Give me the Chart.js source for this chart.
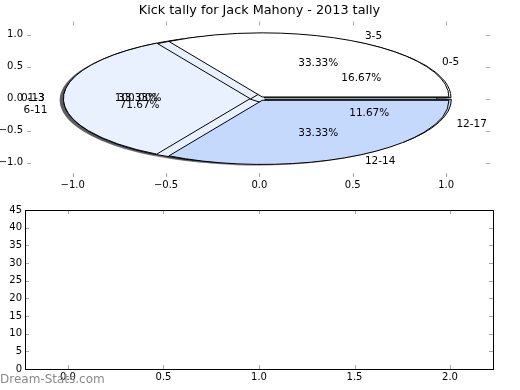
<!DOCTYPE html>
<html>
<head>
<meta charset="utf-8">
<script src="https://cdn.jsdelivr.net/npm/chart.js@4.4.0/dist/chart.umd.min.js"></script>
<style>
  body { margin: 0; background: #fff; }
  #wrap { position: relative; width: 520px; height: 390px; }
  #pieBox { position: absolute; left: 0; top: 0; width: 520px; height: 195px; }
  #tallyBox { position: absolute; left: 0; top: 195px; width: 520px; height: 195px; }
  #mark { position: absolute; left: 0; top: 372px; font: 12px 'DejaVu Sans'; color: #8a8a8a; }
</style>
</head>
<body>
<div id="wrap">
  <div id="pieBox"><canvas id="pieChart"></canvas></div>
  <div id="tallyBox"><canvas id="tallyChart"></canvas></div>
  <div id="mark">Dream-Stats.com</div>
</div>
<script>
const chartTitle = 'Kick tally for Jack Mahony - 2013 tally';

// every slice is its own little pie, all piled on the same axes
const sliceLabels = ['1-3', '6-11', '0-13', '0-5', '3-5', '12-17', '12-14'];
const slicePercents = [100, 71.67, 33.33, 16.67, 33.33, 11.67, 33.33];

const pieXTicks = [-1, -0.5, 0, 0.5, 1];
const pieYTicks = [-1, -0.5, 0, 0.5, 1];
const tallyXTicks = [0, 0.5, 1, 1.5, 2];
const tallyYTicks = [0, 5, 10, 15, 20, 25, 30, 35, 40, 45];

// how each little pie was laid out
const sliceStart = [0, 60, 120, 0, 0, 0, 0];
const sliceDir = [1, 1, 1, 1, 1, -1, -1];
const sliceExplode = [0.05, 0.05, 0.05, 0.03, 0.03, 0.03, 0.03];
const sliceColors = ['#e9f1fe', '#e9f1fe', '#e9f1fe', '#ffffff', '#ffffff', '#c5d9fd', '#c5d9fd'];

const FONT = 'DejaVu Sans';
const fmt1 = v => (v < 0 ? '\u2212' : '') + Math.abs(v).toFixed(1);

function sliceGeom(i) {
  const span = slicePercents[i] / 100 * 360;
  const a1 = sliceStart[i];
  const a2 = a1 + sliceDir[i] * span;
  const mid = (a1 + a2) / 2 * Math.PI / 180;
  return {
    a1: Math.min(a1, a2), a2: Math.max(a1, a2), mid,
    cx: sliceExplode[i] * Math.cos(mid), cy: sliceExplode[i] * Math.sin(mid), full: span >= 360
  };
}

function wedgePath(ctx, xs, ys, g, dx, dy) {
  const px = xs.getPixelForValue(g.cx + dx), py = ys.getPixelForValue(g.cy + dy);
  const rx = xs.getPixelForValue(g.cx + dx + 1) - px;
  const ry = py - ys.getPixelForValue(g.cy + dy + 1);
  ctx.beginPath();
  if (g.full) {
    ctx.ellipse(px, py, rx, ry, 0, 0, Math.PI * 2);
  } else {
    ctx.moveTo(px, py);
    ctx.ellipse(px, py, rx, ry, 0, -g.a1 * Math.PI / 180, -g.a2 * Math.PI / 180, true);
  }
  ctx.closePath();
}

function shade(hex) {
  const n = parseInt(hex.slice(1), 16);
  const r = Math.round(((n >> 16) & 255) * 0.3), g = Math.round(((n >> 8) & 255) * 0.3), b = Math.round((n & 255) * 0.3);
  return 'rgba(' + r + ',' + g + ',' + b + ',0.5)';
}

const ellipsePie = {
  id: 'ellipsePie',
  beforeDatasetsDraw(chart) {
    const { ctx, scales: { x, y } } = chart;
    ctx.save();
    // shadows go under everything
    sliceLabels.forEach((l, i) => {
      const g = sliceGeom(i);
      wedgePath(ctx, x, y, g, -0.02, -0.02);
      ctx.fillStyle = shade(sliceColors[i]);
      ctx.fill();
    });
    sliceLabels.forEach((l, i) => {
      const g = sliceGeom(i);
      wedgePath(ctx, x, y, g, 0, 0);
      ctx.fillStyle = sliceColors[i];
      ctx.fill();
      ctx.strokeStyle = '#000';
      ctx.lineWidth = 1;
      ctx.stroke();
    });
    ctx.restore();
  },
  afterDatasetsDraw(chart) {
    const { ctx, scales: { x, y }, chartArea: a } = chart;
    ctx.save();
    ctx.font = '10.5px ' + FONT;
    ctx.fillStyle = '#000';
    ctx.textBaseline = 'middle';
    sliceLabels.forEach((l, i) => {
      const g = sliceGeom(i);
      const lx = 1.1 * Math.cos(g.mid), ly = 1.1 * Math.sin(g.mid);
      ctx.textAlign = lx > 0 ? 'left' : 'right';
      ctx.fillText(l, x.getPixelForValue(g.cx + lx), y.getPixelForValue(g.cy + ly));
      ctx.textAlign = 'center';
      ctx.fillText(slicePercents[i].toFixed(2) + '%',
        x.getPixelForValue(g.cx + 0.6 * Math.cos(g.mid)), y.getPixelForValue(g.cy + 0.6 * Math.sin(g.mid)));
    });
    ctx.font = '12.8px ' + FONT;
    ctx.textAlign = 'center';
    ctx.fillText(chartTitle, (a.left + a.right) / 2 + 1, 10.5);
    ctx.restore();
  }
};

const innerTicks = {
  id: 'innerTicks',
  afterDraw(chart, args, opts) {
    const { ctx, chartArea: a, scales: { x, y } } = chart;
    ctx.save();
    ctx.strokeStyle = '#a8a8a8';
    ctx.lineWidth = 1;
    ctx.beginPath();
    x.ticks.forEach(t => {
      const p = Math.round(x.getPixelForValue(t.value)) + 0.5;
      ctx.moveTo(p, a.top); ctx.lineTo(p, a.top + 4);
      ctx.moveTo(p, a.bottom); ctx.lineTo(p, a.bottom - 4);
    });
    y.ticks.forEach(t => {
      const p = Math.round(y.getPixelForValue(t.value)) + 0.5;
      ctx.moveTo(a.left, p); ctx.lineTo(a.left + 4, p);
      ctx.moveTo(a.right, p); ctx.lineTo(a.right - 4, p);
    });
    ctx.stroke();
    if (opts.box) {
      ctx.strokeStyle = '#000';
      ctx.strokeRect(Math.round(a.left) + 0.5, Math.round(a.top) + 0.5,
        Math.round(a.right - a.left), Math.round(a.bottom - a.top));
    }
    ctx.restore();
  }
};

function axis(min, max, tickVals, fmt, pad, size, horizontal) {
  return {
    type: 'linear', min: min, max: max,
    afterBuildTicks: s => { s.ticks = tickVals.map(v => ({ value: v })); },
    afterFit: s => { if (horizontal) s.height = size; else s.width = size; },
    ticks: { callback: fmt, font: { family: FONT, size: 10 }, color: '#000', padding: pad, maxRotation: 0, autoSkip: false },
    grid: { display: false, drawTicks: false },
    border: { display: false }
  };
}

new Chart(document.getElementById('pieChart'), {
  type: 'scatter',
  data: { datasets: [{ data: [] }] },
  options: {
    responsive: true, maintainAspectRatio: false, animation: false,
    layout: { padding: { top: 21.7, right: 30, left: 0, bottom: 0 } },
    plugins: { legend: { display: false }, tooltip: { enabled: false }, innerTicks: { box: false } },
    scales: {
      x: axis(-1.245, 1.235, pieXTicks, v => fmt1(v), 2, 18, true),
      y: axis(-1.222, 1.2, pieYTicks, v => fmt1(v), 4, 27, false)
    }
  },
  plugins: [ellipsePie, innerTicks]
});

new Chart(document.getElementById('tallyChart'), {
  type: 'scatter',
  data: { datasets: [{ data: [] }] },
  options: {
    responsive: true, maintainAspectRatio: false, animation: false,
    layout: { padding: { top: 15, right: 27, left: 0, bottom: 0 } },
    plugins: { legend: { display: false }, tooltip: { enabled: false }, innerTicks: { box: true } },
    scales: {
      x: axis(-0.225, 2.225, tallyXTicks, v => v.toFixed(1), 2, 21, true),
      y: axis(0, 45, tallyYTicks, v => String(v), 3, 25, false)
    }
  },
  plugins: [innerTicks]
});
</script>
</body>
</html>
